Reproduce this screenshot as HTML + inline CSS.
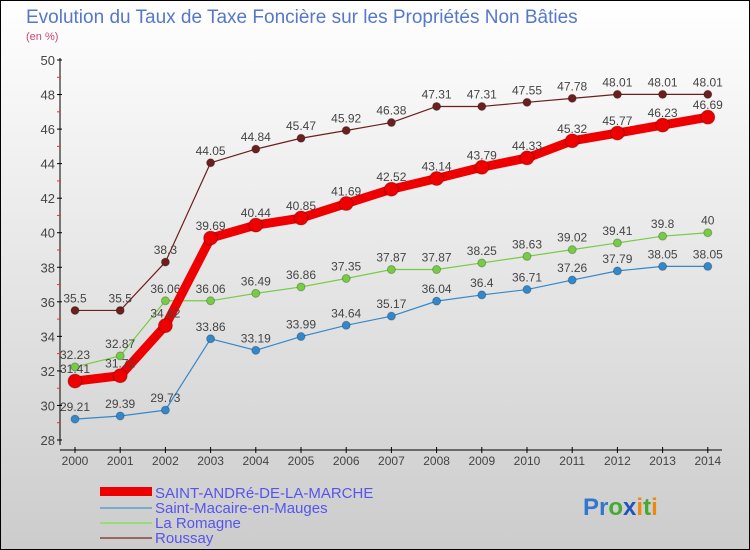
<!DOCTYPE html>
<html><head><meta charset="utf-8"><style>
body{margin:0}
#c{width:750px;height:550px;position:relative;overflow:hidden;font-family:"Liberation Sans",sans-serif}
</style></head><body>
<div id="c">
<svg width="750" height="550">
<defs><linearGradient id="bg" x1="0" y1="0" x2="0" y2="1"><stop offset="0" stop-color="#ffffff"/><stop offset="1" stop-color="#cccccc"/></linearGradient></defs>
<rect x="0.5" y="0.5" width="749" height="549" fill="url(#bg)" stroke="#000"/>
<text x="26" y="23" font-size="19" fill="#5577cc">Evolution du Taux de Taxe Foncière sur les Propriétés Non Bâties</text>
<text x="26" y="40" font-size="11" fill="#cc4477">(en %)</text>
<g id="axes"></g>
<g id="series"></g>
<g id="legend">
<rect x="100" y="487" width="52" height="9" fill="#ee0000"/>
<text x="155" y="498" font-size="15" fill="#5555ee">SAINT-ANDRé-DE-LA-MARCHE</text>
<rect x="100" y="507" width="52" height="2" fill="#7aaacc"/>
<text x="155" y="513" font-size="15" fill="#5555ee">Saint-Macaire-en-Mauges</text>
<rect x="100" y="522" width="52" height="2" fill="#99dd77"/>
<text x="155" y="528" font-size="15" fill="#5555ee">La Romagne</text>
<rect x="100" y="537" width="52" height="2" fill="#996666"/>
<text x="155" y="543" font-size="15" fill="#5555ee">Roussay</text>
</g>
<text x="583" y="515" font-size="24" font-weight="bold"><tspan fill="#3377cc">Pr</tspan><tspan fill="#44aa33">o</tspan><tspan fill="#2255bb">x</tspan><tspan fill="#ee8811">i</tspan><tspan fill="#44aa33">t</tspan><tspan fill="#ee8811">i</tspan></text>
</svg>
</div>
<script>
const years=[2000,2001,2002,2003,2004,2005,2006,2007,2008,2009,2010,2011,2012,2013,2014];
const yTicks=[28,30,32,34,36,38,40,42,44,46,48,50];
const saintAndre=[31.41,31.72,34.62,39.69,40.44,40.85,41.69,42.52,43.14,43.79,44.33,45.32,45.77,46.23,46.69];
const saintMacaire=[29.21,29.39,29.73,33.86,33.19,33.99,34.64,35.17,36.04,36.4,36.71,37.26,37.79,38.05,38.05];
const laRomagne=[32.23,32.87,36.06,36.06,36.49,36.86,37.35,37.87,37.87,38.25,38.63,39.02,39.41,39.8,40];
const roussay=[35.5,35.5,38.3,44.05,44.84,45.47,45.92,46.38,47.31,47.31,47.55,47.78,48.01,48.01,48.01];
const NS="http://www.w3.org/2000/svg";
const x=i=>75+i*45.2;
const y=v=>440-(v-28)*380/22;
function mk(t,a,p){const e=document.createElementNS(NS,t);for(const k in a)e.setAttribute(k,a[k]);p.appendChild(e);return e;}
const ax=document.getElementById('axes');
let l=mk('line',{x1:60,y1:58,x2:60,y2:445,stroke:'#000'},ax);


l=mk('line',{x1:60,y1:450,x2:722,y2:450,stroke:'#000'},ax);


yTicks.forEach((v,i)=>{
 mk('line',{x1:57,y1:y(v),x2:62,y2:y(v),stroke:'#000'},ax);
 if(i<yTicks.length-1)mk('line',{x1:57,y1:y(v+1),x2:61,y2:y(v+1),stroke:'#e33'},ax);
 const t=mk('text',{x:55,y:y(v)+5,'font-size':13,'text-anchor':'end',fill:'#444'},ax);
 t.textContent=v;
 
 
});
years.forEach((yr,i)=>{
 mk('line',{x1:x(i),y1:447,x2:x(i),y2:453,stroke:'#000'},ax);
 const t=mk('text',{x:x(i),y:465,'font-size':12,'text-anchor':'middle',fill:'#444'},ax);
 t.textContent=yr;
 
 
});
const sg=document.getElementById('series');
function draw(data,color,w,r,name){
 const g=mk('g',{},sg);
 
 
 const pl=mk('polyline',{points:data.map((v,i)=>x(i)+','+y(v)).join(' '),fill:'none',stroke:color,'stroke-width':w,'stroke-linejoin':'round'},g);
 
 
 data.forEach((v,i)=>{
  const c=mk('circle',{cx:x(i),cy:y(v),r:r,fill:color,stroke:'rgba(0,0,0,0.25)'},g);
  
  
  const t=mk('text',{x:x(i),y:y(v)-8,'font-size':12,'text-anchor':'middle',fill:'#444'},g);
  t.textContent=v;
  
  
 });
}
draw(roussay,'#6b1f1f',1.2,4,'roussay');
draw(laRomagne,'#77cc44',1.2,4,'la-romagne');
draw(saintMacaire,'#3388cc',1.2,4,'saint-macaire');
draw(saintAndre,'#ee0000',9,7,'saint-andre');
</script>
</body></html>
